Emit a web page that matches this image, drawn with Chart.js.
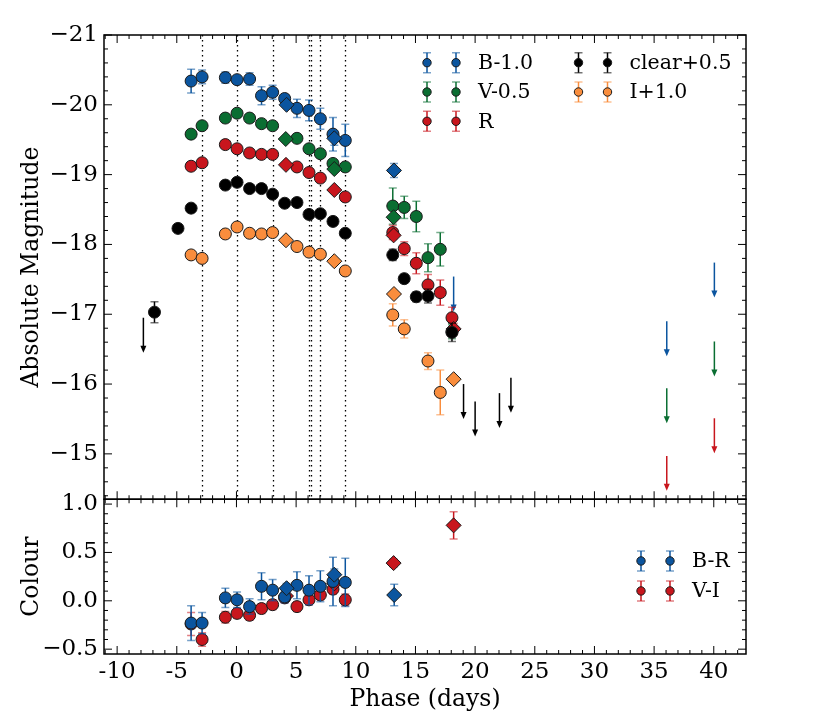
<!DOCTYPE html>
<html>
<head>
<meta charset="utf-8">
<script src="https://cdn.jsdelivr.net/npm/chart.js@4.4.1/dist/chart.umd.min.js"></script>
<style>
  body { margin: 0; background: #fff; }
  #wrap { width: 830px; height: 727px; }
</style>
</head>
<body>
<div id="wrap"><canvas id="lc" width="830" height="727"></canvas></div>
<script>
// ================= DATA =================
// B-1.0
const bPhase = [-3.8, -2.88, -0.93, 0.05, 1.1, 2.1, 3.03, 4.04, 5.07, 6.08, 7.03, 8.09, 9.12];
const bMag   = [-20.34, -20.40, -20.39, -20.36, -20.37, -20.13, -20.18, -20.09, -19.95, -19.92, -19.80, -19.58, -19.49];
const bErr   = [0.17, 0.10, 0.08, 0.05, 0.09, 0.13, 0.10, 0.05, 0.13, 0.15, 0.15, 0.24, 0.23];
const bDPhase = [4.2, 8.2, 13.2];
const bDMag   = [-20.0, -19.52, -19.06];
const bDErr   = [0.04, 0.10, 0.10];
const bLimPhase = [18.2, 36.06, 40.05];
const bLimMag   = [-17.54, -16.90, -17.74];

// V-0.5
const vPhase = [-3.8, -2.88, -0.93, 0.05, 1.1, 2.1, 3.03, 5.07, 6.08, 7.03, 8.09, 9.12, 13.1, 14.06, 15.07, 16.05, 17.08, 18.06];
const vMag   = [-19.58, -19.70, -19.81, -19.88, -19.81, -19.73, -19.70, -19.52, -19.37, -19.30, -19.16, -19.11, -18.55, -18.53, -18.40, -17.81, -17.93, -16.75];
const vErr   = [0.06, 0.03, 0.03, 0.03, 0.03, 0.03, 0.03, 0.03, 0.03, 0.03, 0.05, 0.04, 0.26, 0.16, 0.22, 0.20, 0.24, 0.10];
const vDPhase = [4.13, 8.2, 13.17];
const vDMag   = [-19.51, -19.08, -18.39];
const vDErr   = [0.03, 0.04, 0.04];
const vLimPhase = [36.06, 40.05];
const vLimMag   = [-15.94, -16.61];

// R
const rPhase = [-3.8, -2.88, -0.93, 0.05, 1.1, 2.1, 3.03, 5.07, 6.08, 7.03, 9.12, 13.1, 14.06, 15.07, 16.05, 17.08, 18.06];
const rMag   = [-19.12, -19.17, -19.43, -19.37, -19.31, -19.29, -19.29, -19.11, -19.03, -18.95, -18.68, -18.17, -17.94, -17.73, -17.42, -17.31, -16.95];
const rErr   = [0.04, 0.03, 0.02, 0.02, 0.02, 0.02, 0.02, 0.02, 0.02, 0.02, 0.03, 0.10, 0.10, 0.15, 0.15, 0.18, 0.15];
const rDPhase = [4.15, 8.2, 13.17, 18.2];
const rDMag   = [-19.14, -18.78, -18.13, -16.79];
const rDErr   = [0.03, 0.03, 0.05, 0.08];
const rLimPhase = [36.06, 40.05];
const rLimMag   = [-14.97, -15.51];

// clear+0.5
const cPhase = [-6.87, -4.9, -3.8, -0.93, 0.05, 1.1, 2.1, 3.03, 4.04, 5.07, 6.08, 7.03, 8.09, 9.12, 13.1, 14.06, 15.07, 16.05, 18.06];
const cMag   = [-17.03, -18.23, -18.52, -18.85, -18.89, -18.80, -18.80, -18.72, -18.59, -18.60, -18.43, -18.44, -18.33, -18.16, -17.85, -17.51, -17.25, -17.26, -16.74];
const cErr   = [0.15, 0.06, 0.05, 0.03, 0.03, 0.03, 0.03, 0.03, 0.03, 0.03, 0.03, 0.03, 0.03, 0.03, 0.08, 0.06, 0.07, 0.10, 0.13];
const cLimPhase = [-7.8, 19.03, 20.0, 22.04, 23.0];
const cLimMag   = [-16.95, -16.0, -15.75, -15.87, -16.09];

// I+1.0
const iPhase = [-3.8, -2.88, -0.93, 0.05, 1.1, 2.1, 3.03, 5.07, 6.08, 7.03, 9.12, 13.1, 14.06, 16.05, 17.08];
const iMag   = [-17.85, -17.80, -18.15, -18.25, -18.16, -18.15, -18.17, -17.97, -17.89, -17.86, -17.62, -16.99, -16.79, -16.33, -15.88];
const iErr   = [0.06, 0.03, 0.03, 0.03, 0.03, 0.03, 0.03, 0.03, 0.03, 0.03, 0.03, 0.16, 0.13, 0.12, 0.32];
const iDPhase = [4.15, 8.2, 13.2, 18.2];
const iDMag   = [-18.06, -17.76, -17.29, -16.07];
const iDErr   = [0.03, 0.03, 0.04, 0.04];

// Colours
const brPhase = [-3.8, -2.88, -0.93, 0.05, 1.1, 2.1, 3.03, 4.04, 5.07, 6.08, 7.03, 8.09, 9.12];
const brVal   = [-0.23, -0.23, 0.03, 0.01, -0.06, 0.15, 0.11, 0.04, 0.16, 0.11, 0.15, 0.20, 0.19];
const brErr   = [0.18, 0.11, 0.10, 0.08, 0.08, 0.14, 0.11, 0.06, 0.14, 0.15, 0.16, 0.25, 0.25];
const brDPhase = [4.2, 8.2, 13.22];
const brDVal   = [0.13, 0.27, 0.06];
const brDErr   = [0.05, 0.06, 0.11];

const viPhase = [-3.8, -2.88, -0.93, 0.05, 1.1, 2.1, 3.03, 4.04, 5.07, 6.08, 7.03, 8.09, 9.12];
const viVal   = [-0.24, -0.40, -0.17, -0.13, -0.15, -0.08, -0.04, 0.03, -0.06, 0.01, 0.06, 0.12, 0.01];
const viErr   = [0.12, 0.07, 0.06, 0.05, 0.05, 0.05, 0.05, 0.05, 0.05, 0.05, 0.05, 0.05, 0.06];
const viDPhase = [4.15, 8.2, 13.17, 18.2];
const viDVal   = [0.05, 0.18, 0.39, 0.78];
const viDErr   = [0.04, 0.05, 0.04, 0.14];

// spectra epochs (dotted lines)
const epochLines = [-2.88, 0.05, 3.03, 6.08, 6.25, 7.03, 9.12];

// ticks
const phaseTicks  = [-10, -5, 0, 5, 10, 15, 20, 25, 30, 35, 40];
const magTicks    = [-21, -20, -19, -18, -17, -16, -15];
const colourTicks = [-0.5, 0.0, 0.5, 1.0];

const BLUE = '#0b559f', GREEN = '#0a6e32', RED = '#c8161d', ORANGE = '#f98d3d', BLACK = '#000000';
const FONT = "'DejaVu Serif', serif";

// ================= HELPERS =================
function pts(xs, ys) { return xs.map((x, i) => ({ x: x, y: ys[i] })); }

function marks(label, xs, ys, errs, color, axis, shape) {
  return {
    label: label, data: pts(xs, ys), errors: errs, errColor: color, yAxisID: axis,
    backgroundColor: color, borderColor: '#1a1a1a', borderWidth: 1,
    pointStyle: shape === 'D' ? 'rectRot' : 'circle',
    pointRadius: shape === 'D' ? 7.5 : 6, showLine: false
  };
}

function limits(label, xs, ys, color) {
  return { label: label, data: pts(xs, ys), yAxisID: 'y', pointRadius: 0, limColor: color, isLimit: true, showLine: false };
}

function minorRange(a, b, step) {
  const out = [];
  for (let v = a; v <= b + 1e-9; v += step) out.push(Math.round(v * 1000) / 1000);
  return out;
}

// ================= PLUGINS =================
// error bars + upper limit arrows, drawn just before each dataset
const errorBars = {
  id: 'errorBars',
  beforeDatasetDraw(chart, args) {
    const ds = chart.data.datasets[args.index];
    const xs = chart.scales.x, ys = chart.scales[ds.yAxisID];
    const ctx = chart.ctx;
    ctx.save();
    if (ds.errors) {
      ds.data.forEach((p, i) => {
        const e = ds.errors[i];
        const px = xs.getPixelForValue(p.x);
        const y1 = ys.getPixelForValue(p.y - e), y2 = ys.getPixelForValue(p.y + e);
        ctx.strokeStyle = ds.errColor;
        ctx.lineWidth = 1.5;
        ctx.globalAlpha = 1;
        ctx.beginPath(); ctx.moveTo(px, y1); ctx.lineTo(px, y2); ctx.stroke();
        ctx.globalAlpha = 0.55;
        ctx.beginPath();
        ctx.moveTo(px - 4, y1); ctx.lineTo(px + 4, y1);
        ctx.moveTo(px - 4, y2); ctx.lineTo(px + 4, y2);
        ctx.stroke();
      });
    }
    if (ds.isLimit) {
      ds.data.forEach(p => {
        const px = xs.getPixelForValue(p.x);
        const y1 = ys.getPixelForValue(p.y), y2 = ys.getPixelForValue(p.y + 0.5);
        ctx.strokeStyle = ds.limColor;
        ctx.fillStyle = ds.limColor;
        ctx.lineWidth = 1.5;
        ctx.beginPath(); ctx.moveTo(px, y1); ctx.lineTo(px, y2 - 5); ctx.stroke();
        ctx.beginPath();
        ctx.moveTo(px - 3, y2 - 7); ctx.lineTo(px + 3, y2 - 7); ctx.lineTo(px, y2); ctx.closePath();
        ctx.fill();
      });
    }
    ctx.restore();
  }
};

// dotted epoch lines in the magnitude panel
const epochs = {
  id: 'epochs',
  beforeDatasetsDraw(chart) {
    const ctx = chart.ctx, xs = chart.scales.x, ys = chart.scales.y;
    ctx.save();
    ctx.strokeStyle = '#000';
    ctx.lineWidth = 1.3;
    ctx.setLineDash([1.5, 3.5]);
    epochLines.forEach(v => {
      const px = Math.round(xs.getPixelForValue(v)) + 0.5;
      ctx.beginPath(); ctx.moveTo(px, ys.top); ctx.lineTo(px, ys.bottom); ctx.stroke();
    });
    ctx.restore();
  }
};

// panel frames with inward ticks on all sides
const frame = {
  id: 'frame',
  afterDatasetsDraw(chart) {
    const ctx = chart.ctx, xs = chart.scales.x;
    const L = chart.chartArea.left, R = chart.chartArea.right;
    const panels = [
      [chart.scales.y, magTicks, minorRange(-21, -14.4, 0.2)],
      [chart.scales.c, colourTicks, minorRange(-0.5, 1.0, 0.1)]
    ];
    const xMinor = minorRange(-11, 42, 1);
    ctx.save();
    ctx.strokeStyle = '#000';
    panels.forEach(([ys, major, minor]) => {
      const T = ys.top, B = ys.bottom;
      ctx.lineWidth = 1;
      ctx.beginPath();
      xMinor.forEach(v => {
        const px = xs.getPixelForValue(v);
        const len = phaseTicks.includes(v) ? 8 : 4;
        ctx.moveTo(px, B); ctx.lineTo(px, B - len);
        ctx.moveTo(px, T); ctx.lineTo(px, T + len);
      });
      minor.forEach(v => {
        const py = ys.getPixelForValue(v);
        const len = major.some(m => Math.abs(m - v) < 1e-6) ? 8 : 4;
        ctx.moveTo(L, py); ctx.lineTo(L + len, py);
        ctx.moveTo(R, py); ctx.lineTo(R - len, py);
      });
      ctx.stroke();
      ctx.lineWidth = 1.5;
      ctx.strokeRect(L, T, R - L, B - T);
    });
    ctx.restore();
  }
};

// legends drawn in the style of the reference (two markers per entry)
const magLegend = [
  { text: 'B-1.0', color: BLUE, col: 0, row: 0 },
  { text: 'V-0.5', color: GREEN, col: 0, row: 1 },
  { text: 'R', color: RED, col: 0, row: 2 },
  { text: 'clear+0.5', color: BLACK, col: 1, row: 0 },
  { text: 'I+1.0', color: ORANGE, col: 1, row: 1 }
];
const colourLegend = [
  { text: 'B-R', color: BLUE, col: 0, row: 0 },
  { text: 'V-I', color: RED, col: 0, row: 1 }
];

const legends = {
  id: 'legends',
  afterDraw(chart) {
    const ctx = chart.ctx, L = chart.chartArea.left;
    function entry(e, x0, y0) {
      [x0, x0 + 29].forEach(mx => {
        ctx.strokeStyle = e.color; ctx.lineWidth = 1.5; ctx.globalAlpha = 1;
        ctx.beginPath(); ctx.moveTo(mx, y0 - 10); ctx.lineTo(mx, y0 + 10); ctx.stroke();
        ctx.globalAlpha = 0.55;
        ctx.beginPath();
        ctx.moveTo(mx - 4, y0 - 10); ctx.lineTo(mx + 4, y0 - 10);
        ctx.moveTo(mx - 4, y0 + 10); ctx.lineTo(mx + 4, y0 + 10);
        ctx.stroke();
        ctx.globalAlpha = 1;
        ctx.fillStyle = e.color; ctx.strokeStyle = '#1a1a1a'; ctx.lineWidth = 1;
        ctx.beginPath(); ctx.arc(mx, y0, 4.2, 0, Math.PI * 2); ctx.fill(); ctx.stroke();
      });
      ctx.fillStyle = '#000';
      ctx.font = '20.5px ' + FONT;
      ctx.textBaseline = 'middle';
      ctx.textAlign = 'left';
      ctx.fillText(e.text, x0 + 51, y0 + 1);
    }
    ctx.save();
    const top = chart.scales.y.top;
    magLegend.forEach(e => entry(e, L + 323 + e.col * 151.5, top + 27.7 + e.row * 29.3));
    const ctop = chart.scales.c.top;
    colourLegend.forEach(e => entry(e, L + 537, ctop + 61.7 + e.row * 30));
    ctx.restore();
  }
};

// ================= CHART =================
Chart.defaults.font.family = FONT;
Chart.defaults.font.size = 23;
Chart.defaults.color = '#000';

const datasets = [
  marks('B-R', brDPhase, brDVal, brDErr, BLUE, 'c', 'D'),
  marks('B-R', brPhase, brVal, brErr, BLUE, 'c', 'o'),
  marks('V-I', viDPhase, viDVal, viDErr, RED, 'c', 'D'),
  marks('V-I', viPhase, viVal, viErr, RED, 'c', 'o'),
  marks('I+1.0', iDPhase, iDMag, iDErr, ORANGE, 'y', 'D'),
  marks('I+1.0', iPhase, iMag, iErr, ORANGE, 'y', 'o'),
  limits('clear lim', cLimPhase, cLimMag, BLACK),
  marks('clear+0.5', cPhase, cMag, cErr, BLACK, 'y', 'o'),
  marks('R', rDPhase, rDMag, rDErr, RED, 'y', 'D'),
  marks('R', rPhase, rMag, rErr, RED, 'y', 'o'),
  limits('R lim', rLimPhase, rLimMag, RED),
  marks('V-0.5', vDPhase, vDMag, vDErr, GREEN, 'y', 'D'),
  marks('V-0.5', vPhase, vMag, vErr, GREEN, 'y', 'o'),
  limits('V lim', vLimPhase, vLimMag, GREEN),
  marks('B-1.0', bDPhase, bDMag, bDErr, BLUE, 'y', 'D'),
  marks('B-1.0', bPhase, bMag, bErr, BLUE, 'y', 'o'),
  limits('B lim', bLimPhase, bLimMag, BLUE)
];

new Chart(document.getElementById('lc').getContext('2d'), {
  type: 'scatter',
  data: { datasets: datasets },
  options: {
    responsive: false,
    animation: false,
    layout: { padding: { left: 0, right: 84, top: 35, bottom: 0 } },
    plugins: { legend: { display: false }, tooltip: { enabled: false } },
    scales: {
      x: {
        type: 'linear', position: 'bottom', min: -11.1, max: 42.7,
        afterBuildTicks: s => { s.ticks = phaseTicks.map(v => ({ value: v })); },
        afterFit: s => { s.height = 73; },
        ticks: { autoSkip: false, maxRotation: 0, padding: 4, callback: v => String(v) },
        grid: { display: false, drawTicks: false },
        border: { display: false },
        title: { display: true, text: 'Phase (days)', font: { size: 23.5 }, padding: { top: 0, bottom: 13 } }
      },
      c: {
        type: 'linear', position: 'left', stack: 'panels', stackWeight: 1,
        min: -0.55, max: 1.05,
        afterBuildTicks: s => { s.ticks = colourTicks.map(v => ({ value: v })); },
        afterFit: s => { s.width = 104; },
        ticks: { autoSkip: false, padding: 6, callback: v => (v < 0 ? '\u2212' : '') + Math.abs(v).toFixed(1) },
        grid: { display: false, drawTicks: false },
        border: { display: false },
        title: { display: true, text: 'Colour', font: { size: 23.5 }, padding: { top: 18, bottom: 0 } }
      },
      y: {
        type: 'linear', position: 'left', stack: 'panels', stackWeight: 3,
        reverse: true, min: -21, max: -14.35,
        afterBuildTicks: s => { s.ticks = magTicks.map(v => ({ value: v })); },
        afterFit: s => { s.width = 104; },
        ticks: { autoSkip: false, padding: 6, callback: v => '\u2212' + Math.abs(v) },
        grid: { display: false, drawTicks: false },
        border: { display: false },
        title: { display: true, text: 'Absolute Magnitude', font: { size: 23.5 }, padding: { top: 18, bottom: 0 } }
      }
    }
  },
  plugins: [epochs, errorBars, frame, legends]
});
</script>
</body>
</html>
